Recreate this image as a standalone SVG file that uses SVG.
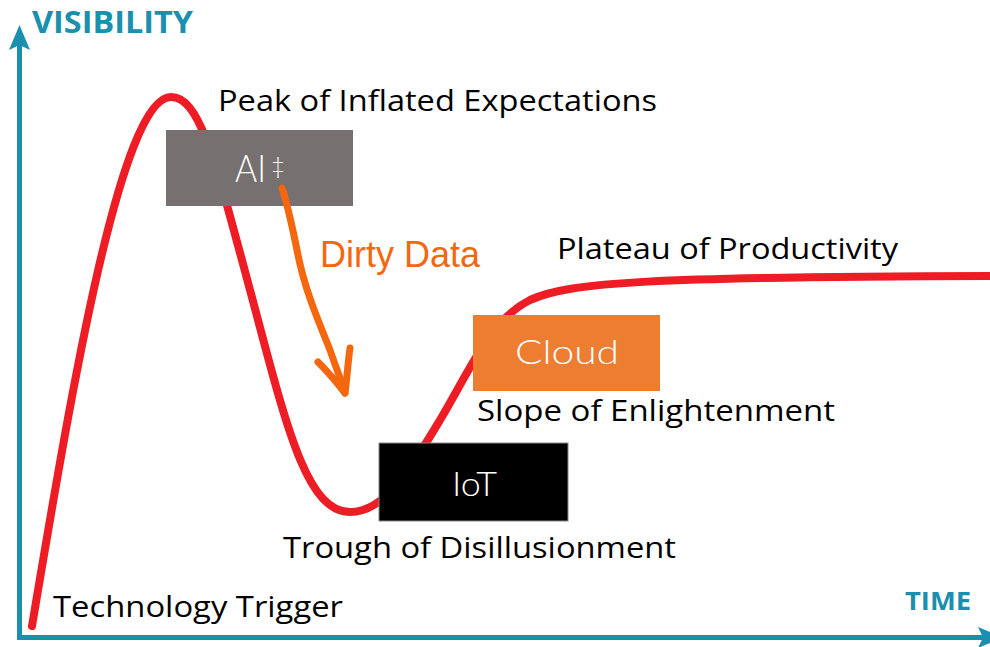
<svg xmlns="http://www.w3.org/2000/svg" width="990" height="647" viewBox="0 0 990 647">
  <style>
    .axis { stroke: #1A8FAE; stroke-width: 5; fill: none; }
    .axisLabel { font-family: "Open Sans", "Noto Sans", sans-serif; font-weight: bold; fill: #1A8FAE; }
    .label { font-family: "Open Sans", "Noto Sans", sans-serif; font-size: 30px; fill: #000; }
    .boxText { font-family: Lato, "Noto Sans", sans-serif; font-weight: 300; fill: #fff; }
    .curve { stroke: #EE1C25; stroke-width: 8; fill: none; stroke-linecap: round; }
    .note { stroke: #F4670F; stroke-width: 7; fill: none; stroke-linecap: round; stroke-linejoin: round; }
  </style>
  <rect width="990" height="647" fill="#fff"/>
  <g id="axes">
    <line class="axis" x1="19.5" y1="45" x2="19.5" y2="640"/>
    <line class="axis" x1="17" y1="637.5" x2="985" y2="637.5"/>
    <polygon points="19.5,25 30,50 19.5,45 9,50" fill="#1A8FAE"/>
    <polygon points="1003,637.5 978,627 983,637.5 978,648" fill="#1A8FAE"/>
    <text class="axisLabel" x="32" y="33" font-size="31" textLength="161" lengthAdjust="spacingAndGlyphs">VISIBILITY</text>
    <text class="axisLabel" x="905" y="610" font-size="25" textLength="66" lengthAdjust="spacingAndGlyphs">TIME</text>
  </g>
  <g id="connectors">
    <path id="hype-curve" class="curve" d="M32,626 C70,400 120,97 171,97 C200,97 215,160 250,290 C285,420 305,512 350,512 C385,512 410,470 440,420 C470,370 490,320 530,300 C570,282 650,277 990,276"/>
  </g>
  <g id="labels">
    <text class="label" x="218" y="111" textLength="439" lengthAdjust="spacingAndGlyphs">Peak of Inflated Expectations</text>
    <text class="label" x="557" y="259" textLength="341" lengthAdjust="spacingAndGlyphs">Plateau of Productivity</text>
    <text class="label" x="477" y="421" textLength="358" lengthAdjust="spacingAndGlyphs">Slope of Enlightenment</text>
    <text class="label" x="283" y="558" textLength="393" lengthAdjust="spacingAndGlyphs">Trough of Disillusionment</text>
    <text class="label" x="53" y="617" textLength="290" lengthAdjust="spacingAndGlyphs">Technology Trigger</text>
  </g>
  <g id="node-ai">
    <rect x="166" y="130" width="187" height="76" fill="#767170"/>
    <text class="boxText" x="235" y="182" font-size="37" textLength="31" lengthAdjust="spacingAndGlyphs">AI</text>
    <text class="boxText" x="271" y="174" font-size="24" font-weight="400">‡</text>
  </g>
  <g id="node-iot">
    <rect x="379" y="443" width="189" height="78" fill="#000" stroke="#8a8a8a" stroke-width="1"/>
    <text class="boxText" x="452" y="496" font-size="34" textLength="45" lengthAdjust="spacingAndGlyphs">IoT</text>
  </g>
  <g id="node-cloud">
    <rect x="473" y="315" width="187" height="76" fill="#ED7D31"/>
    <text class="boxText" x="515" y="364" font-size="34" textLength="104" lengthAdjust="spacingAndGlyphs">Cloud</text>
  </g>
  <g id="dirty-data">
    <path class="note" d="M282,188 C288,205 292,225 298,255 C305,290 318,320 330,350 C336,368 342,382 345,393"/>
    <path class="note" d="M318,362 C328,372 338,384 345,393 C347,378 348,362 350,348"/>
    <text x="320" y="267" font-family="Liberation Sans, Arial, sans-serif" font-size="36" fill="#F4670F">Dirty Data</text>
  </g>
</svg>
